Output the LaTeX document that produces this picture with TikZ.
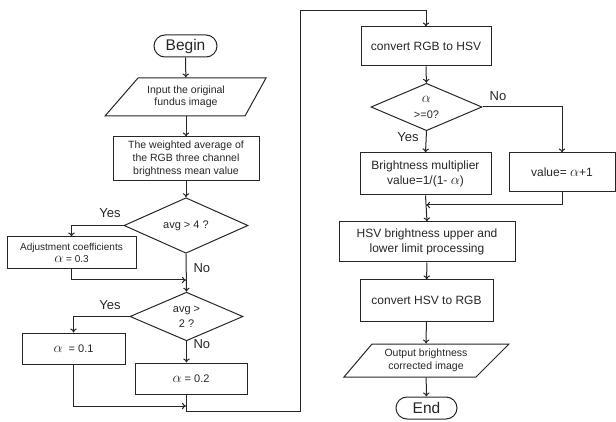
\documentclass[tikz,border=0pt]{standalone}
\usepackage{fontspec}
\setmainfont{Liberation Sans}
\usetikzlibrary{arrows.meta,shapes.geometric,calc}
\newcommand{\alf}{{\fontsize{15}{15}\selectfont$\alpha$}}
\begin{document}
\begin{tikzpicture}[x=1pt,y=-1pt,
  line width=1pt,
  color=black!85,
  box/.style={draw,rectangle,inner sep=0pt,align=center,font=\fontsize{10.5}{13}\selectfont},
  bigbox/.style={box,font=\fontsize{12}{15}\selectfont},
  io/.style={rectangle,inner sep=0pt,align=center,font=\fontsize{10.5}{12.5}\selectfont},
  term/.style={draw,rectangle,rounded corners=11pt,inner sep=0pt,font=\fontsize{15.5}{18}\selectfont},
  dec/.style={draw,diamond,inner sep=0pt,align=center,font=\fontsize{11}{14}\selectfont},
  lab/.style={font=\fontsize{13}{15}\selectfont,inner sep=0pt},
  arr/.style={-{To[length=4pt,width=6.5pt]}}
]
\useasboundingbox (0,0) rectangle (616,422);

% left column
\node[term,minimum width=63pt,minimum height=22pt] (begin) at (185.5,46) {Begin};
\node[io,minimum width=130pt,minimum height=38pt] (inp) at (186,97) {Input the original\\fundus image};
\draw[shift={(inp.center)}] (-48,-19) -- (80,-19) -- (59,19) -- (-81,19) -- cycle;
\node[box,minimum width=146pt,minimum height=44pt] (wavg) at (186,159) {The weighted average of\\the RGB three channel\\brightness mean value};
\node[dec,minimum width=124pt,minimum height=51pt] (d1) at (186,225.5) {avg > 4 ?};
\node[box,minimum width=129pt,minimum height=32pt,font=\fontsize{10}{12.5}\selectfont] (adj) at (71.5,253) {Adjustment coefficients\\\alf{} = 0.3};
\node[dec,minimum width=113pt,minimum height=39pt,font=\fontsize{11}{15}\selectfont] (d2) at (186.5,316.5) {avg >\\2 ?};
\node[box,minimum width=103pt,minimum height=31pt,font=\fontsize{11}{13}\selectfont] (a01) at (73.5,348.5) {\alf\; = 0.1};
\node[box,minimum width=112pt,minimum height=31pt,font=\fontsize{11}{13}\selectfont] (a02) at (191,378.5) {\alf{} = 0.2};

\coordinate (m1) at (186,280);
\coordinate (m2) at (186,406);
\coordinate (c1) at (300,411);
\coordinate (c2) at (300,11);

% right column
\node[bigbox,minimum width=130pt,minimum height=39pt] (rgb) at (426,46.5) {convert RGB to HSV};
\node[dec,minimum width=111pt,minimum height=40pt,font=\fontsize{11}{16}\selectfont] (d3) at (426.5,107) {\alf\\>=0?};
\node[bigbox,minimum width=131pt,minimum height=42pt] (bm) at (425.5,174) {Brightness multiplier\\value=1/(1- \alf)};
\node[bigbox,minimum width=106pt,minimum height=39pt] (val) at (562,172.5) {value= \alf+1};
\coordinate (m3) at (426,205);
\node[bigbox,minimum width=176pt,minimum height=40pt] (lim) at (427,242) {HSV brightness upper and\\lower limit processing};
\node[bigbox,minimum width=133pt,minimum height=41pt] (hsv) at (426.5,300.5) {convert HSV to RGB};
\node[io,minimum width=130pt,minimum height=33pt] (out) at (426,360.5) {Output brightness\\corrected image};
\draw[shift={(out.center)}] (-54,-16.5) -- (83,-16.5) -- (50,16.5) -- (-82,16.5) -- cycle;
\node[term,minimum width=61pt,minimum height=22pt] (end) at (426.5,408) {End};

% connectors left
\draw[arr] (begin) -- (inp);
\draw[arr] (inp) -- (wavg);
\draw[arr] (wavg) -- (d1);
\draw[arr] (d1.west) -| (adj.north);
\node[lab] (y1) at (110,213) {Yes};
\draw[arr] (adj.south) |- (m1);
\draw[arr] (d1.south) -- (d2.north);
\node[lab,anchor=west] (n1) at (193,268) {No};
\draw[arr] (d2.west) -| (a01.north);
\node[lab] (y2) at (110,305) {Yes};
\draw[arr] (d2.south) -- (d2.south |- a02.north);
\node[lab,anchor=west] (n2) at (193,344) {No};
\draw[arr] (a01.south) |- (m2);
\draw[arr] (d2.south |- a02.south) |- (c1) -- (c2) -| (rgb.north);

% connectors right
\draw[arr] (rgb) -- (d3);
\draw[arr] (d3.east) -| (val.north);
\node[lab] (n3) at (498,96) {No};
\draw[arr] (d3.south) -- (bm.north);
\node[lab] (y3) at (408,137) {Yes};
\draw[arr] (val.south) |- (m3);
\draw[arr] (bm.south) -- (lim.north);
\draw[arr] (lim) -- (hsv);
\draw[arr] (hsv) -- (out);
\draw[arr] (out) -- (end);
\end{tikzpicture}
\end{document}
